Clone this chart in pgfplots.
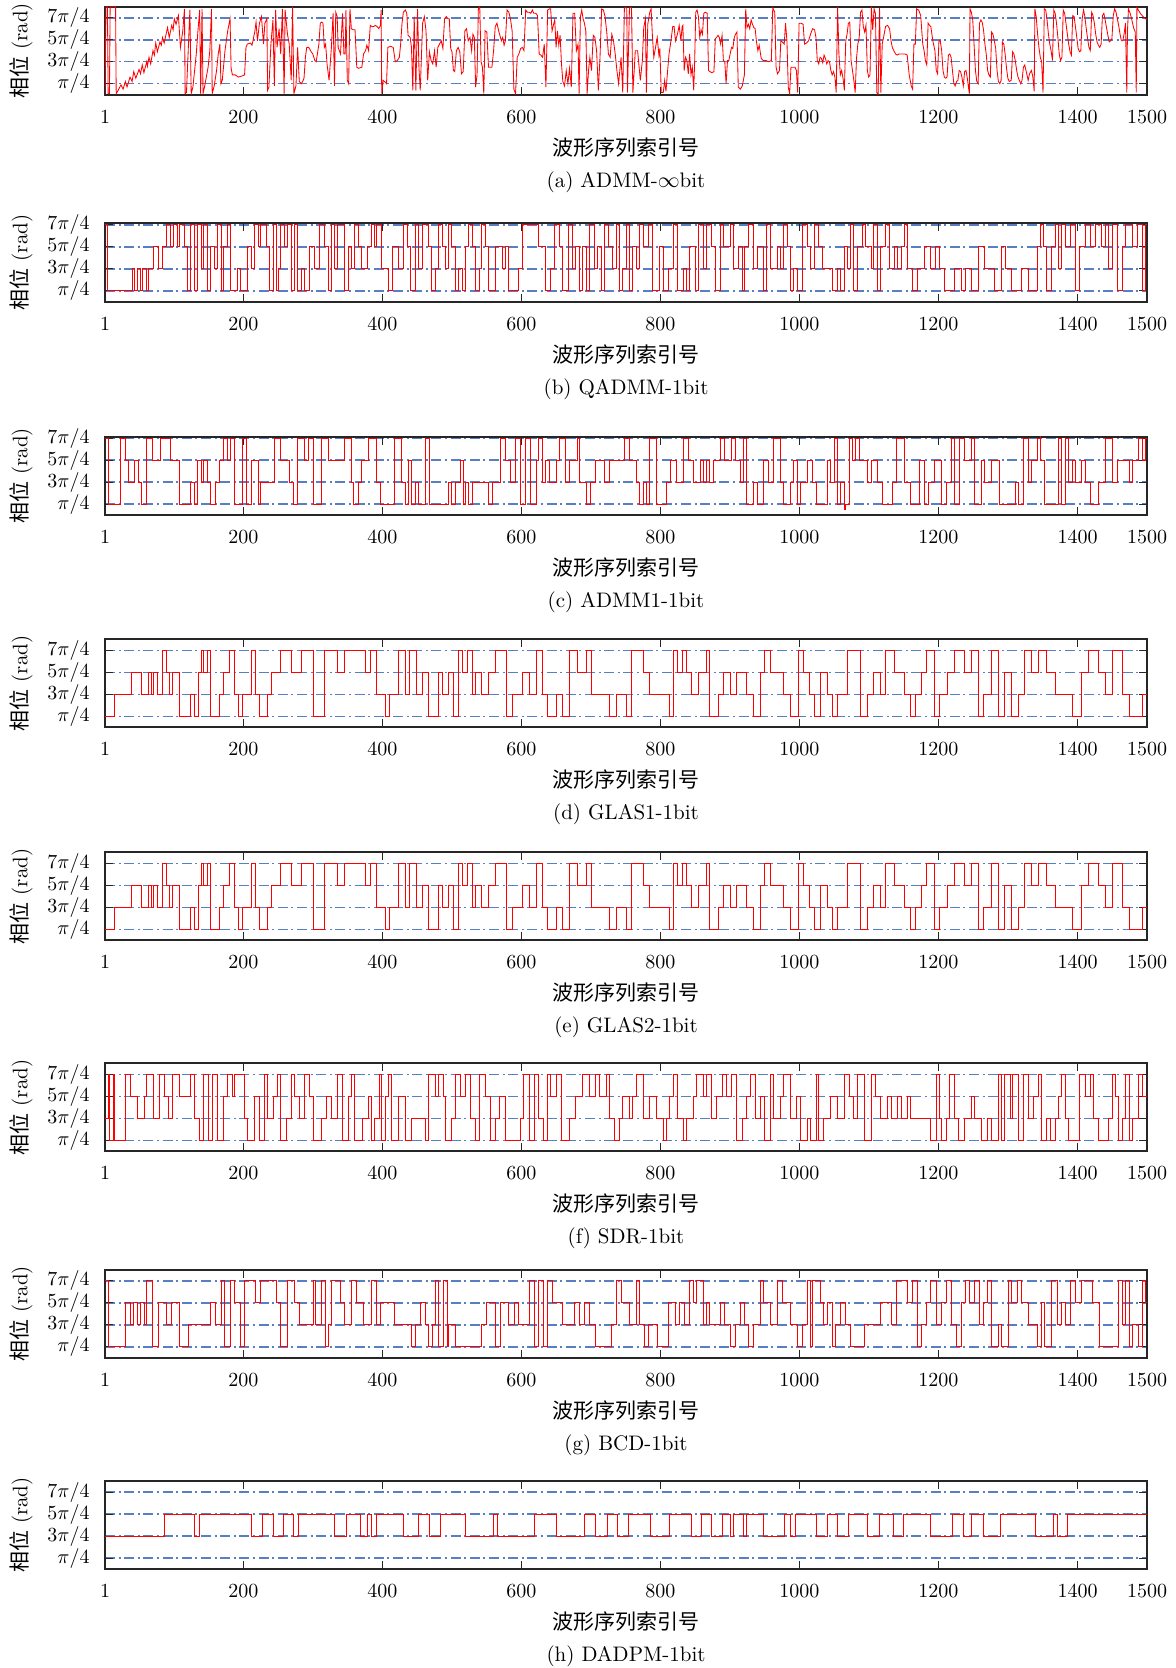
\documentclass[border=0pt]{standalone}
\usepackage{fontspec}
\newfontfamily\cjk{Noto Sans CJK SC}
\usepackage{pgfplots}
\usepackage{pgfplotstable}
\pgfplotsset{compat=1.18}
\definecolor{gridblue}{RGB}{88,126,196}

\pgfplotstableread{
x y
1 0.1
2.5 8.0
4.5 8.0
5.5 0.1
7.4 0.1
8.4 8.0
16.2 8.0
17.1 0.1
19.1 0.3
24 0.9
27 0.5
30.3 1.2
32.7 0.7
37 1.6
40 1.2
42.4 2.1
45.3 1.5
50 2.3
52 1.9
54.6 2.7
57.0 2.0
61 3.0
62 2.6
64.3 3.4
66.7 2.8
70 4.0
72 3.6
74.0 4.7
76.4 3.9
80 4.8
82 4.5
83.7 5.2
86.1 4.7
91.0 6.1
93.4 5.2
97 6.3
99 5.9
100.7 6.9
103.2 6.4
106.6 7.2
109.5 4.3
112.9 5.8
115.3 7.8
116.3 0.1
118.2 0.2
121.1 4.6
123.1 7.7
125.0 0.1
127.5 0.7
132.3 3.7
134.7 5.8
137.2 7.7
138.6 0.1
140.6 7.8
142.0 0.1
144.5 0.8
149.3 2.5
151.8 4.0
154.2 7.8
155.2 0.1
158.1 0.8
161.5 2.2
163.9 3.7
166.3 4.6
167.8 1.0
169.7 1.3
173.6 4.0
177.5 5.8
180.9 6.9
182.4 2.4
184.3 1.8
188.2 1.8
193.1 1.6
197.9 1.7
201.8 1.8
203.8 4.3
205.7 4.6
210.1 4.7
212.5 4.5
216.4 5.7
218.3 6.6
220.3 4.9
223.2 6.5
226.1 7.1
229.0 4.6
231.0 6.5
233.9 6.9
234.9 0.4
236.8 0.7
239.7 4.6
242.6 6.8
244.6 0.8
246.5 7.7
248.5 4.3
251.4 6.0
253.8 3.7
256.2 7.8
258.7 0.1
260.1 7.7
263.5 5.5
266.0 4.6
268.9 1.3
270.8 8.0
272.8 0.1
275.7 0.8
278.1 4.3
280.5 1.2
283.5 1.0
285.4 1.2
287.3 1.5
289.3 3.4
291.2 4.3
294.1 4.3
297.6 3.9
300.0 3.7
302.9 3.1
304.8 3.0
308.7 4.6
310.7 6.5
312.6 6.6
314.6 6.5
316.5 4.3
318.4 4.6
320.4 2.8
323.3 1.3
326.7 4.3
329.1 7.4
331.1 0.8
333.0 7.5
335.0 7.1
336.4 4.3
339.8 3.7
342.7 7.4
344.7 3.7
346.6 3.7
347.6 7.7
349.6 1.3
351.5 1.0
353.4 7.8
355.4 6.0
358.3 5.9
360.7 5.9
363.2 2.5
365.6 2.4
370.5 2.5
372.9 3.7
375.8 4.0
377.7 4.5
380.2 4.0
382.6 6.3
385.0 6.2
387.5 6.2
389.9 6.3
392.3 6.2
394.8 6.0
397.2 6.3
398.2 7.7
399.1 0.1
401.1 1.3
403.0 1.2
406.0 1.0
407.9 4.3
411.8 4.4
415.6 4.3
418.6 3.0
421.5 3.1
424.4 3.4
426.3 4.6
428.3 6.5
430.2 7.5
433.1 7.7
435.1 7.4
437.0 5.4
440.0 5.2
441.9 4.3
443.8 0.4
445.8 7.1
448.2 0.4
450.6 7.8
452.6 2.5
454.5 0.4
457.9 6.5
460.4 7.1
462.8 5.8
465.2 1.3
467.7 3.9
470.1 3.1
472.5 2.8
475.0 4.0
477.4 2.5
479.8 4.3
482.2 4.6
484.7 4.9
487.1 4.2
489.5 6.9
492.0 7.1
494.4 6.9
496.3 6.9
498.3 4.2
500.2 3.9
502.2 2.2
504.1 2.1
506.5 4.0
509.0 4.3
511.4 3.9
513.8 1.9
516.3 2.1
518.7 5.8
521.1 6.0
523.5 4.9
526.0 5.2
528.4 4.0
530.3 5.5
532.3 5.2
534.2 0.7
536.2 1.8
538.1 7.8
540.1 8.0
542.0 3.0
544.0 2.5
545.9 0.1
547.8 5.8
550.3 5.7
552.7 2.5
555.1 2.5
557.6 2.5
560.0 4.0
562.4 6.2
564.9 6.5
567.3 5.8
571.2 4.9
573.1 5.2
575.1 4.5
577.0 4.9
579.4 7.7
581.9 7.5
584.3 6.9
586.7 5.8
589.2 0.5
591.6 0.1
594.0 3.4
596.4 3.7
598.9 4.2
601.3 4.3
603.7 4.0
606.2 7.7
608.6 7.5
611.0 7.5
613.5 7.4
615.9 7.7
617.8 7.4
620.7 7.4
623.2 7.2
625.6 3.7
628.0 3.6
630.5 3.4
632.9 4.6
635.3 0.7
637.8 7.7
640.2 7.8
642.1 7.8
644.1 5.8
646.0 6.3
648.0 6.8
649.9 4.3
651.8 5.8
653.8 4.5
655.7 5.4
657.7 2.8
659.6 1.2
662.1 0.8
664.5 2.2
666.9 1.0
669.3 2.4
671.8 0.7
674.2 7.4
676.6 7.4
679.1 4.0
681.5 4.6
683.0 0.1
684.9 7.1
686.8 7.7
688.8 6.9
690.7 6.5
692.7 5.8
694.6 0.1
696.6 2.2
698.5 3.4
700.9 2.2
703.4 5.4
705.8 5.2
708.2 4.0
710.7 0.4
713.1 3.4
715.5 7.8
718.0 7.7
720.4 7.1
722.8 5.7
725.2 3.7
727.7 3.4
730.1 5.5
732.5 4.9
735.0 3.7
737.4 2.2
739.8 1.0
743.4 3.4
745.8 0.2
748.2 7.9
751.6 7.9
752.6 0.2
755.5 7.9
758.4 7.9
760.4 0.2
762.3 2.2
763.8 4.0
767.2 4.0
771.1 1.3
774.0 3.1
776.0 6.1
778.4 6.9
779.8 0.2
781.8 6.4
784.7 7.5
786.6 7.8
788.6 5.2
790.5 3.4
793.0 4.3
795.4 5.2
797.8 3.6
799.2 4.2
801.2 0.2
804.1 0.2
806.1 1.3
808.0 0.3
810.0 1.9
812.4 3.7
815.8 5.2
817.7 6.2
819.7 6.2
821.6 4.9
824.5 5.5
827.0 6.3
829.4 4.9
831.3 6.2
832.3 6.3
834.2 2.2
836.2 3.4
838.1 3.1
840.1 1.9
842.0 3.7
844.0 1.8
845.9 2.5
847.9 0.4
849.3 3.1
850.8 7.5
852.7 7.7
854.7 7.1
856.6 5.2
858.5 5.9
860.5 5.5
862.4 7.4
864.4 7.5
867.3 7.4
869.2 2.2
871.2 2.1
874.1 2.0
877.0 2.1
879.0 5.1
880.9 5.2
882.8 5.4
884.8 5.2
886.7 4.6
888.7 5.4
890.6 3.1
892.6 3.0
894.5 1.0
896.5 3.1
898.4 3.1
900.3 3.7
902.3 4.3
904.2 4.2
906.2 5.2
908.1 5.5
910.1 5.7
912.0 0.7
914.9 0.5
917.8 0.8
920.8 1.8
922.7 7.8
924.6 6.1
926.6 6.4
928.5 6.0
930.5 6.8
932.4 6.4
934.4 6.1
936.3 6.0
938.2 4.8
940.2 4.0
942.1 4.5
945.0 3.3
948.0 3.1
951.9 3.1
955.7 3.0
959.6 3.1
961.6 7.9
964.5 7.5
966.4 2.5
968.4 1.9
971.3 2.2
973.2 4.9
975.2 4.8
978.1 4.6
980.0 6.5
982.0 4.9
983.9 0.7
985.9 0.1
987.8 2.5
990.7 2.5
993.7 2.5
995.6 2.2
997.5 0.2
999.5 6.5
1002.4 6.5
1005.3 6.4
1007.3 4.6
1010.2 4.7
1013.1 4.9
1016.0 5.5
1018.9 6.0
1021.8 5.9
1023.8 5.2
1025.7 3.1
1027.7 2.8
1029.6 3.4
1031.6 3.3
1033.5 2.9
1035.4 3.6
1037.4 3.3
1039.3 2.8
1041.3 3.1
1043.2 3.0
1045.2 2.2
1047.1 1.8
1049.1 2.1
1051.0 1.6
1052.9 0.2
1054.9 8.0
1056.8 3.7
1058.8 1.8
1060.7 2.2
1062.7 1.5
1064.6 0.4
1066.6 4.9
1068.5 5.5
1070.4 6.5
1072.4 6.6
1074.3 3.1
1076.3 2.2
1078.2 1.3
1080.2 0.2
1082.1 3.3
1084.0 4.6
1086.0 5.2
1087.9 7.5
1089.9 7.7
1091.8 6.2
1093.8 5.7
1095.7 6.3
1097.7 2.2
1099.6 1.6
1101.5 1.8
1103.5 8.0
1105.4 5.9
1107.4 7.8
1109.3 7.4
1111.3 0.2
1113.2 0.0
1115.2 7.9
1117.1 0.2
1119.1 4.6
1121.0 5.2
1123.9 6.2
1126.8 6.3
1129.7 6.0
1131.7 4.9
1133.6 4.3
1136.5 3.9
1138.5 3.7
1140.4 3.6
1143.3 3.7
1146.3 3.7
1149.2 3.7
1152.1 3.7
1155.0 3.6
1157.9 1.8
1160.8 0.8
1162.8 0.5
1164.7 4.6
1166.7 4.6
1168.6 7.8
1171.5 7.7
1174.4 7.2
1177.4 4.6
1179.3 4.0
1181.2 3.1
1183.2 2.7
1185.1 6.5
1187.1 6.3
1189.0 6.2
1191.9 4.9
1194.9 4.0
1196.8 2.2
1198.7 1.9
1200.7 4.9
1202.6 4.9
1204.6 4.0
1206.5 2.2
1208.5 1.6
1210.4 1.5
1212.3 1.6
1214.3 3.6
1216.2 3.7
1218.2 3.4
1220.1 2.2
1222.1 1.0
1224.0 0.8
1226.0 1.2
1227.9 1.3
1229.8 2.2
1231.8 2.1
1233.7 1.6
1235.7 0.8
1237.6 2.1
1239.6 2.2
1241.5 1.5
1243.5 0.5
1244.4 0.1
1245.4 7.8
1247.3 7.5
1249.3 6.8
1251.2 4.6
1253.2 2.2
1255.1 1.2
1257.1 1.0
1259.0 6.5
1261.0 6.8
1262.9 6.6
1264.8 5.9
1266.8 4.6
1268.7 3.7
1270.7 2.2
1272.6 1.8
1274.6 1.6
1276.5 5.7
1278.4 5.5
1280.4 4.9
1282.3 4.2
1284.3 2.2
1286.2 1.2
1288.2 1.0
1290.1 1.3
1292.0 4.8
1294.0 4.6
1295.9 3.7
1297.9 2.4
1299.8 1.5
1301.8 1.2
1304.7 1.3
1306.6 3.9
1308.6 3.7
1310.5 3.1
1312.5 2.2
1314.4 1.6
1316.4 1.3
1318.3 1.0
1320.2 1.3
1322.2 2.5
1324.1 2.7
1327.0 1.9
1329.0 1.3
1330.9 1.9
1333.8 2.2
1335.8 1.6
1337.7 0.3
1338.7 7.8
1340.6 7.1
1342.6 5.5
1344.5 4.3
1346.5 3.4
1348.4 3.0
1350.4 0.2
1352.3 7.8
1354.3 7.7
1356.2 6.8
1358.2 5.5
1360.1 4.6
1362.0 4.0
1364.0 3.1
1365.9 7.7
1367.9 7.4
1369.8 6.5
1371.8 5.2
1373.7 3.7
1375.6 3.1
1377.6 3.4
1379.5 7.7
1381.5 7.4
1383.4 6.5
1385.4 5.5
1387.3 4.6
1389.3 3.9
1391.2 3.6
1393.1 7.2
1395.1 7.1
1397.0 6.2
1399.0 5.2
1400.9 4.2
1402.9 3.9
1404.8 4.0
1406.7 6.9
1408.7 7.7
1410.6 7.1
1412.6 6.0
1414.5 5.1
1416.5 4.3
1418.4 4.0
1420.4 7.5
1422.3 7.2
1424.2 6.5
1426.2 5.5
1428.1 4.8
1430.1 4.5
1432.0 4.3
1434.0 4.6
1435.9 7.2
1437.9 7.4
1439.8 6.8
1441.7 6.1
1443.7 5.4
1445.6 4.8
1447.6 4.9
1449.5 5.1
1451.5 7.2
1453.4 7.8
1455.4 7.5
1457.3 6.9
1459.2 6.3
1461.2 5.5
1463.1 4.9
1465.1 4.9
1467.0 5.5
1469.0 6.5
1470.9 0.2
1471.9 5.8
1473.3 7.8
1475.8 7.4
1478.2 6.8
1480.6 6.1
1483.1 5.7
1484.5 0.2
1485.5 8.0
1487.4 7.7
1490.3 7.4
1494.3 7.1
1498.1 6.9
1500 6.8
}\tabA

\pgfplotstableread{
x y
1 7
4 1
40 3
44 1
47 3
52 1
55 3
60 1
63 3
71 5
78 3
83 5
90 7
95 5
100 7
105 5
108 7
115 5
119 1
124 7
129 1
134 7
139 3
143 7
148 1
153 5
158 3
163 7
168 1
172 5
177 7
182 1
192 3
196 1
206 5
212 3
216 7
221 5
225 7
233 5
237 1
243 7
247 1
250 3
254 7
259 5
264 7
269 1
274 7
278 1
283 3
288 1
295 5
302 3
310 7
317 5
322 1
327 7
331 3
336 7
346 1
351 5
355 3
360 7
365 5
370 3
378 5
384 7
389 5
392 7
399 3
409 1
415 5
423 3
430 7
436 5
440 1
447 7
452 3
457 7
466 5
471 1
476 3
481 7
486 5
490 3
495 7
500 5
505 1
510 3
515 1
519 5
524 7
529 5
534 1
539 3
543 7
548 5
553 1
563 5
572 3
577 5
582 1
596 3
601 7
625 5
635 1
642 3
648 7
654 5
659 1
667 7
674 3
678 5
683 1
688 5
693 1
698 7
705 3
709 5
715 1
720 7
725 5
731 3
736 7
741 1
746 3
751 7
756 1
760 5
765 3
770 7
775 5
783 7
789 1
799 5
804 1
811 3
818 7
825 1
833 3
838 1
842 5
850 1
855 7
862 3
866 7
873 5
879 1
886 7
891 5
900 7
905 3
912 5
918 1
921 5
927 7
934 3
939 5
948 1
953 7
958 3
968 5
972 3
977 7
982 5
987 1
992 3
997 1
1004 7
1011 5
1016 3
1021 7
1027 5
1033 3
1047 1
1054 3
1059 1
1064 5
1069 3
1074 7
1078 1
1083 5
1090 7
1095 5
1103 3
1107 7
1112 1
1117 5
1124 7
1130 3
1136 5
1141 3
1146 5
1151 7
1156 3
1162 1
1170 3
1180 5
1189 3
1196 5
1201 3
1209 1
1223 3
1233 1
1239 3
1247 1
1257 5
1266 3
1281 1
1291 5
1297 3
1305 1
1319 3
1329 1
1342 5
1347 7
1351 5
1356 1
1363 5
1368 7
1373 3
1377 7
1382 5
1390 7
1397 1
1403 5
1411 7
1419 5
1426 7
1435 5
1440 7
1445 3
1450 7
1457 1
1464 5
1469 7
1479 5
1486 7
1493 1
1498 7
1500 7
}\tabB

\pgfplotstableread{
x y
1 7
6 1
23 7
31 5
34 3
44 5
49 3
54 1
60 7
69 5
81 7
95 5
108 1
124 3
129 1
134 5
139 3
143 5
148 3
153 1
160 3
166 5
172 7
177 5
182 7
187 1
198 7
204 1
211 5
221 1
225 3
245 7
254 5
266 3
272 1
278 7
288 5
293 7
301 1
312 7
322 5
346 7
355 3
358 1
365 3
370 5
380 7
391 3
397 1
418 7
428 3
433 1
437 5
442 1
447 3
452 1
462 7
468 1
495 3
500 1
505 3
512 5
516 1
519 3
524 1
529 3
553 1
558 3
570 7
577 5
584 3
592 7
599 1
606 7
613 1
621 5
625 7
630 3
635 5
640 3
650 5
654 7
664 3
669 5
680 7
683 3
693 1
700 3
707 5
719 3
727 5
748 7
756 5
765 3
770 1
775 3
780 1
784 7
794 1
809 3
815 5
823 3
833 7
840 5
847 3
857 5
862 3
866 5
871 3
876 5
886 7
892 5
902 7
908 5
915 3
919 7
924 1
934 3
939 1
948 5
956 3
963 7
972 3
977 1
987 3
992 5
997 1
1001 3
1011 5
1018 3
1025 1
1040 5
1045 3
1050 7
1054 1
1059 3
1064 0.55
1066 1
1072 7
1076 5
1081 7
1086 5
1098 3
1103 5
1112 3
1120 1
1134 3
1139 7
1151 3
1160 1
1172 5
1180 1
1185 3
1194 5
1204 1
1211 3
1218 7
1223 1
1230 7
1238 5
1247 7
1252 1
1262 5
1266 3
1276 5
1288 1
1310 3
1315 1
1322 7
1329 3
1334 5
1342 7
1346 8.5
1347 5
1353 1
1373 7
1377 1
1382 7
1387 3
1392 5
1397 3
1406 5
1411 3
1419 1
1430 3
1440 7
1450 3
1457 5
1474 3
1479 5
1488 7
1493 5
1498 7
1500 7
}\tabC

\pgfplotstableread{
x y
1 1
15 3
39 5
54 3
63 5
68 3
71 5
76 3
84 7
90 5
93 3
98 5
108 1
124 3
129 1
136 5
139 7
143 5
148 7
152 1
166 3
172 5
180 7
187 3
193 1
198 3
211 7
218 3
223 1
235 3
240 5
254 7
269 5
283 7
301 1
317 7
336 5
346 7
375 5
383 7
392 3
404 1
410 3
423 7
433 3
439 7
449 3
457 5
466 1
481 5
486 3
495 5
502 1
510 7
515 5
522 7
529 3
534 5
542 3
553 5
563 7
579 1
587 3
601 5
611 3
621 7
630 3
638 1
650 3
659 1
669 7
680 5
693 7
701 3
727 1
736 3
751 1
758 7
775 5
784 3
813 1
818 7
825 5
831 7
837 5
844 3
855 5
866 7
871 1
883 3
890 5
900 3
910 5
924 3
934 1
944 5
950 7
958 5
977 3
987 1
998 7
1006 5
1014 3
1021 1
1030 5
1040 3
1047 1
1054 3
1069 7
1088 1
1098 3
1107 5
1117 3
1124 7
1136 5
1151 3
1160 1
1167 3
1175 5
1182 7
1194 1
1201 3
1213 5
1223 7
1238 5
1247 7
1257 1
1265 3
1276 7
1286 1
1295 5
1305 1
1315 3
1324 7
1334 5
1344 7
1355 5
1368 3
1392 1
1406 5
1416 7
1430 5
1440 3
1450 7
1464 3
1474 1
1493 3
1500 3
}\tabD

\pgfplotstableread{
x y
1 3
6 7
8 1
13 7
15 1
31 7
37 5
47 3
57 5
61 7
71 3
79 7
86 5
92 3
98 7
108 5
124 7
129 3
137 1
143 7
150 1
156 7
163 1
172 5
177 7
184 5
187 7
201 3
206 1
216 5
223 1
230 7
235 3
243 5
249 7
254 1
262 3
269 7
274 5
281 3
288 7
295 5
301 1
312 3
320 5
327 3
336 7
343 1
351 5
355 7
360 1
372 3
380 5
384 1
389 3
396 7
399 1
404 5
409 7
413 1
423 5
433 1
442 3
462 1
466 7
476 5
481 7
488 5
490 1
500 3
505 7
513 5
519 7
526 3
534 1
539 7
548 5
555 1
563 3
568 5
577 1
599 3
603 7
611 1
619 7
625 3
632 1
638 7
642 5
650 7
657 1
669 3
678 5
688 7
698 5
707 7
712 5
722 7
727 3
734 1
741 3
746 5
756 3
760 5
765 7
775 3
784 5
794 3
804 1
809 3
813 5
818 7
825 3
833 1
838 3
847 5
852 7
862 5
866 7
873 3
881 5
889 7
895 5
902 7
910 1
918 3
924 5
929 7
937 3
944 5
950 1
958 7
963 3
972 5
977 7
987 3
995 5
1001 1
1011 3
1016 1
1024 7
1027 1
1035 3
1045 5
1054 3
1064 7
1072 5
1078 3
1083 7
1093 1
1103 7
1110 5
1117 3
1127 5
1132 3
1141 5
1146 3
1156 5
1160 3
1189 1
1197 7
1201 3
1204 1
1211 3
1216 7
1223 3
1228 1
1238 3
1247 5
1252 3
1262 1
1271 3
1276 1
1286 7
1291 1
1295 7
1303 3
1307 7
1315 1
1322 7
1329 3
1336 5
1344 7
1348 1
1355 3
1361 1
1368 3
1373 5
1377 7
1382 3
1387 1
1403 7
1411 5
1419 7
1423 3
1430 1
1445 3
1450 7
1455 5
1459 1
1464 3
1469 7
1474 1
1479 3
1488 7
1493 5
1500 7
}\tabF

\pgfplotstableread{
x y
1 7
6 1
31 5
37 3
42 5
47 3
52 5
57 3
61 7
69 1
78 5
90 3
97 5
108 1
121 3
153 5
160 3
168 7
173 1
182 7
187 5
196 1
202 7
218 5
225 7
247 5
254 1
264 7
274 5
280 3
301 7
304 3
312 7
318 1
322 3
327 7
339 5
346 3
355 7
362 5
373 3
384 7
391 3
397 5
418 3
442 1
447 3
455 5
462 3
466 1
472 3
476 7
481 1
488 7
493 1
495 3
505 1
542 3
550 5
563 1
570 5
582 3
590 5
596 3
611 7
619 1
625 7
632 1
637 7
645 5
659 3
676 5
683 3
690 5
698 3
707 1
729 3
736 7
744 5
756 3
765 7
770 3
777 1
783 3
796 1
811 5
821 3
828 5
835 3
842 7
847 5
852 7
862 3
866 5
871 3
886 5
892 3
900 1
908 3
915 5
921 3
927 1
934 3
944 7
948 5
958 3
968 7
975 5
987 3
997 1
1004 3
1011 7
1016 1
1018 7
1030 5
1035 3
1040 5
1047 1
1052 3
1059 5
1066 3
1074 1
1093 3
1117 5
1132 3
1139 7
1156 5
1162 7
1170 1
1175 3
1182 5
1189 7
1197 3
1204 5
1211 7
1218 3
1226 1
1233 5
1239 7
1245 5
1252 7
1259 3
1265 5
1271 7
1276 1
1286 3
1291 1
1300 7
1305 5
1313 7
1320 5
1329 3
1342 1
1348 5
1353 1
1363 7
1371 3
1377 5
1382 3
1390 7
1397 5
1406 7
1421 5
1432 1
1459 7
1464 3
1469 7
1474 1
1479 3
1488 1
1493 7
1498 5
1500 5
}\tabG

\pgfplotstableread{
x y
1 3
86 5
129 3
137 5
211 3
227 5
243 3
257 5
272 3
279 5
331 3
348 5
368 3
378 5
384 3
391 5
431 3
452 5
468 3
483 5
519 3
560 5
566 3
619 5
650 3
691 5
707 3
724 5
738 3
754 5
785 3
813 5
844 3
859 5
873 3
889 5
900 3
905 5
919 3
924 5
948 3
979 5
987 3
994 5
1024 3
1040 5
1054 3
1071 5
1098 3
1115 5
1135 3
1149 5
1189 3
1220 5
1236 3
1247 5
1265 3
1289 5
1339 3
1365 5
1371 3
1385 5
1500 5
}\tabH

\pgfplotsset{
  panel/.style={
    scale only axis, width=521pt, anchor=south west,
    xmin=1, xmax=1500, ymin=0,
    xtick={1,200,400,600,800,1000,1200,1400,1500},
    ytick={1,3,5,7},
    yticklabels={$\pi/4$,$3\pi/4$,$5\pi/4$,$7\pi/4$},
    ymajorgrids,
    major grid style={gridblue, line width=0.8pt, dash pattern=on 5pt off 1.8pt on 1pt off 1.8pt},
    axis line style={black!85, line width=0.9pt},
    major tick style={black!85, line width=0.5pt},
    major tick length=4pt,
    tick label style={font=\fontsize{10.4}{12}\selectfont},
    xticklabel style={anchor=center, yshift=-11pt},
    yticklabel style={anchor=east, xshift=-4.2pt},
    /pgf/number format/1000 sep={},
    xlabel style={at={(axis description cs:0.5,0)}, anchor=north, yshift=-17.8pt, align=center, font=\fontsize{10.5}{16}\selectfont},
    ylabel={{\cjk 相位} (rad)},
    ylabel style={at={(axis description cs:-0.0806,0.5)}, anchor=center, font=\fontsize{10.5}{12}\selectfont},
  },
  phase/.style={red, line width=0.42pt, mark=none},
}
\newcommand{\xl}[1]{{\cjk 波形序列索引号}\\#1}

\begin{document}
\begin{tikzpicture}
\useasboundingbox (0,0) rectangle (588pt,-834pt);

\begin{axis}[panel, at={(52.5pt,-47.35pt)}, height=44pt, ymax=8, xlabel={\xl{(a) ADMM-$\infty$bit}}]
\addplot[phase, sharp plot] table[x=x,y=y] {\tabA};
\end{axis}

\begin{axis}[panel, at={(52.5pt,-150.85pt)}, height=39.2pt, ymax=7.13, xlabel={\xl{(b) QADMM-1bit}}]
\addplot[phase, const plot] table[x=x,y=y] {\tabB};
\end{axis}

\begin{axis}[panel, at={(52.5pt,-257.5pt)}, height=39.2pt, ymax=7.13, xlabel={\xl{(c) ADMM1-1bit}}]
\addplot[phase, const plot] table[x=x,y=y] {\tabC};
\end{axis}

\begin{axis}[panel, at={(52.5pt,-363.65pt)}, height=44pt, ymax=8, xlabel={\xl{(d) GLAS1-1bit}}]
\addplot[phase, const plot] table[x=x,y=y] {\tabD};
\end{axis}

\begin{axis}[panel, at={(52.5pt,-470.15pt)}, height=44pt, ymax=8, xlabel={\xl{(e) GLAS2-1bit}}]
\addplot[phase, const plot] table[x=x,y=y] {\tabD};
\end{axis}

\begin{axis}[panel, at={(52.5pt,-575.65pt)}, height=44pt, ymax=8, xlabel={\xl{(f) SDR-1bit}}]
\addplot[phase, const plot] table[x=x,y=y] {\tabF};
\end{axis}

\begin{axis}[panel, at={(52.5pt,-678.85pt)}, height=44pt, ymax=8, xlabel={\xl{(g) BCD-1bit}}]
\addplot[phase, const plot] table[x=x,y=y] {\tabG};
\end{axis}

\begin{axis}[panel, at={(52.5pt,-784.5pt)}, height=44pt, ymax=8, xlabel={\xl{(h) DADPM-1bit}}]
\addplot[phase, const plot] table[x=x,y=y] {\tabH};
\end{axis}
\end{tikzpicture}
\end{document}
